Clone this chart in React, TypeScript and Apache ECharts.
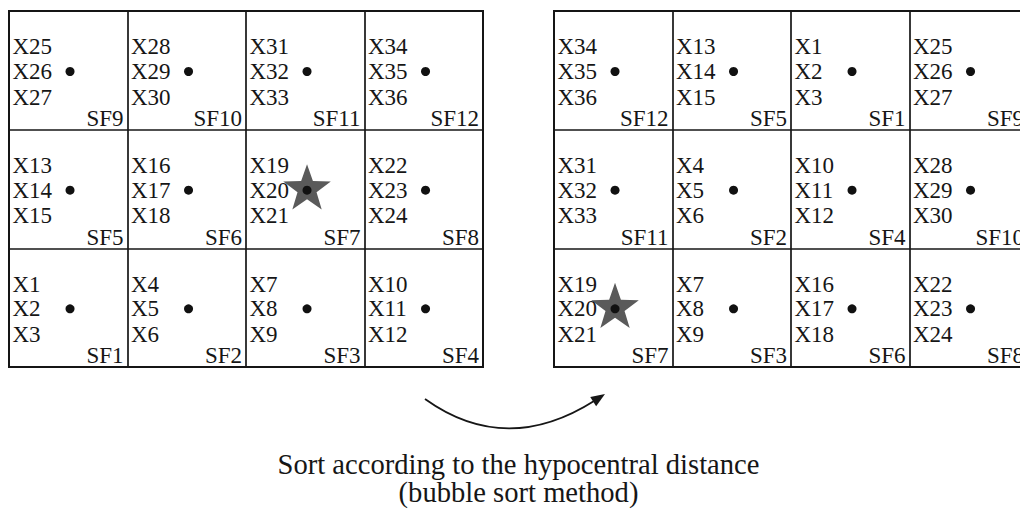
import React, { useEffect, useRef } from "react";
import * as echarts from "echarts";

// Sub-fault layout (rows from top to bottom), before and after sorting
const leftLayout: number[][] = [
  [9, 10, 11, 12],
  [5, 6, 7, 8],
  [1, 2, 3, 4],
];
const rightLayout: number[][] = [
  [12, 5, 1, 9],
  [11, 2, 4, 10],
  [7, 3, 6, 8],
];
const hypocenterCell = 7;
const gridCols = 4;
const gridRows = 3;
const captionLines = ["Sort according to the hypocentral distance", "(bubble sort method)"];

const FONT = '"Liberation Serif", "Times New Roman", serif';
const INK = "#161616";

function cellData(layout: number[][]) {
  const out: number[][] = [];
  layout.forEach((row, r) =>
    row.forEach((sf, c) => out.push([c, layout.length - 1 - r, sf]))
  );
  return out;
}

function starPoints(cx: number, cy: number, R: number, r: number) {
  const pts: number[][] = [];
  for (let i = 0; i < 10; i++) {
    const a = ((-90 + i * 36) * Math.PI) / 180;
    const rad = i % 2 === 0 ? R : r;
    pts.push([cx + rad * Math.cos(a), cy + rad * Math.sin(a)]);
  }
  return pts;
}

const renderCell = (_params: any, api: any) => {
  const col = api.value(0);
  const row = api.value(1);
  const sf = api.value(2);
  const tl = api.coord([col, row + 1]);
  const size = api.size([1, 1]);
  const w = size[0];
  const h = size[1];
  const x0 = tl[0];
  const y0 = tl[1];
  const dotX = x0 + w * 0.515;
  const dotY = y0 + h * 0.51;
  const children: any[] = [];
  if (sf === hypocenterCell) {
    children.push({
      type: "polygon",
      shape: { points: starPoints(dotX, dotY - 1, 25, 10) },
      style: { fill: "#5a5a5a" },
    });
  }
  const labels = [3 * sf - 2, 3 * sf - 1, 3 * sf];
  const ys = [0.303, 0.51, 0.725];
  labels.forEach((n, i) =>
    children.push({
      type: "text",
      x: x0 + 3.5,
      y: y0 + h * ys[i],
      style: {
        text: "X" + n,
        font: `23px ${FONT}`,
        fill: INK,
        align: "left",
        verticalAlign: "middle",
      },
    })
  );
  children.push({
    type: "text",
    x: x0 + w - 4,
    y: y0 + h * 0.906,
    style: {
      text: "SF" + sf,
      font: `23px ${FONT}`,
      fill: INK,
      align: "right",
      verticalAlign: "middle",
    },
  });
  children.push({
    type: "circle",
    shape: { cx: dotX, cy: dotY, r: 4.5 },
    style: { fill: "#111" },
  });
  return { type: "group", children };
};

const axisBase = {
  type: "value" as const,
  axisLine: { show: false },
  axisTick: { show: false },
  axisLabel: { show: false },
  splitLine: { show: true, lineStyle: { color: INK, width: 1.7 } },
};

export default function App() {
  const ref = useRef<HTMLDivElement>(null);
  useEffect(() => {
    document.body.style.margin = "0";
    if (!ref.current) return;
    const chart = echarts.init(ref.current, undefined, { renderer: "svg" });
    const grids = [
      { left: 9, top: 11, width: 474, height: 356 },
      { left: 554, top: 11, width: 474, height: 356 },
    ].map((g) => ({
      ...g,
      show: true,
      borderColor: INK,
      borderWidth: 2,
      backgroundColor: "transparent",
      containLabel: false,
      outerBoundsMode: "none",
    }));

    // arrow geometry
    const sx = 425, sy = 399, cx = 506, cy = 457, tx = 605, ty = 394;
    const dx = tx - cx, dy = ty - cy;
    const len = Math.hypot(dx, dy);
    const ux = dx / len, uy = dy / len;
    const nx = -uy, ny = ux;
    const headL = 14, headW = 5.5;
    const bx = tx - headL * ux, by = ty - headL * uy;

    chart.setOption({
      animation: false,
      backgroundColor: "#fff",
      grid: grids,
      xAxis: [0, 1].map((i) => ({
        ...axisBase,
        gridIndex: i,
        min: 0,
        max: gridCols,
        interval: 1,
      })),
      yAxis: [0, 1].map((i) => ({
        ...axisBase,
        gridIndex: i,
        min: 0,
        max: gridRows,
        interval: 1,
      })),
      series: [
        {
          type: "custom",
          xAxisIndex: 0,
          yAxisIndex: 0,
          data: cellData(leftLayout),
          renderItem: renderCell,
          silent: true,
        },
        {
          type: "custom",
          xAxisIndex: 1,
          yAxisIndex: 1,
          data: cellData(rightLayout),
          renderItem: renderCell,
          silent: true,
        },
      ],
      graphic: [
        {
          type: "bezierCurve",
          shape: { x1: sx, y1: sy, x2: bx + 2 * ux, y2: by + 2 * uy, cpx1: cx, cpy1: cy },
          style: { stroke: INK, lineWidth: 1.8, fill: "none" },
        },
        {
          type: "polygon",
          shape: {
            points: [
              [tx, ty],
              [bx + headW * nx, by + headW * ny],
              [bx - headW * nx, by - headW * ny],
            ],
          },
          style: { fill: INK },
        },
        ...captionLines.map((t, i) => ({
          type: "text",
          x: 518.5,
          y: 464 + i * 28,
          style: {
            text: t,
            font: `28.6px ${FONT}`,
            fill: INK,
            align: "center",
            verticalAlign: "middle",
          },
        })),
      ],
    });
    return () => chart.dispose();
  }, []);
  return <div ref={ref} style={{ width: 1020, height: 511 }} />;
}
